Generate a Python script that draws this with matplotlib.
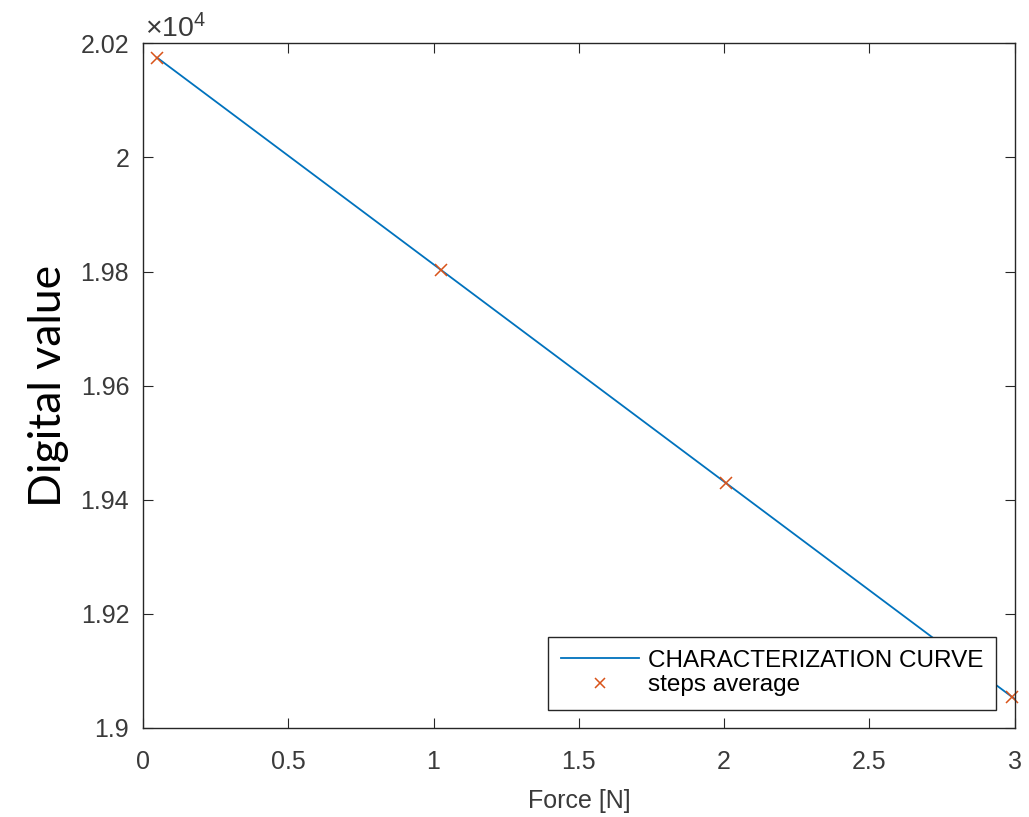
import numpy as np
import matplotlib
matplotlib.use("Agg")
import matplotlib.pyplot as plt
from matplotlib.ticker import FuncFormatter

plt.rcParams['font.family'] = ['Liberation Sans', 'DejaVu Sans']
plt.rcParams['mathtext.fontset'] = 'custom'
plt.rcParams['mathtext.rm'] = 'Liberation Sans'
plt.rcParams['mathtext.it'] = 'Liberation Sans:italic'

# measured step averages
force = [0.048, 1.025, 2.006, 2.99]
digital = [20175, 19802, 19429, 19054]

# characterization curve (linear fit endpoints)
curve_x = [0.048, 3.0]
curve_y = [20175, 19051]

x_ticks = [0, 0.5, 1, 1.5, 2, 2.5, 3]
y_ticks = [19000, 19200, 19400, 19600, 19800, 20000, 20200]

fig = plt.figure(figsize=(10.29, 8.17), dpi=100)
ax = fig.add_axes([0.139, 0.109, 0.847, 0.838])

ax.plot(curve_x, curve_y, color='#0072BD', lw=1.3, label='CHARACTERIZATION CURVE')
ax.plot(force, digital, 'x', color='#D95319', ms=9, mew=1.1, label='steps average',
        clip_on=False)

ax.set_xlim(0, 3)
ax.set_ylim(19000, 20200)
ax.set_xticks(x_ticks)
ax.set_yticks(y_ticks)
ax.xaxis.set_major_formatter(FuncFormatter(lambda v, p: '%g' % v))
ax.yaxis.set_major_formatter(FuncFormatter(lambda v, p: '%g' % (v / 1e4)))

axcol = '#262626'
lblcol = '#3a3a3a'
for s in ax.spines.values():
    s.set_color(axcol)
    s.set_linewidth(1.0)
ax.tick_params(direction='in', top=True, right=True, length=7, width=0.8,
               colors=axcol, labelsize=18, labelcolor=lblcol)
ax.tick_params(axis='x', pad=16)
ax.tick_params(axis='y', pad=10)

ax.set_xlabel('Force [N]', fontsize=18, color=lblcol, labelpad=11)
ax.set_ylabel('Digital value', fontsize=32, family=['Lato', 'DejaVu Sans'],
              color='black', labelpad=8)

ax.text(0.002, 1.0, r'$\times10^4$', transform=ax.transAxes, fontsize=20.5,
        color=lblcol, ha='left', va='bottom')

leg = ax.legend(loc='lower right', fontsize=17.5, fancybox=False, framealpha=1,
                edgecolor=axcol, borderaxespad=0.75, handlelength=3.2,
                handletextpad=0.35, borderpad=0.55, labelspacing=0.1,
                markerscale=0.8)
leg.get_frame().set_linewidth(1.0)
for t in leg.get_texts():
    t.set_color('black')

fig.savefig('out.png', dpi=100)
